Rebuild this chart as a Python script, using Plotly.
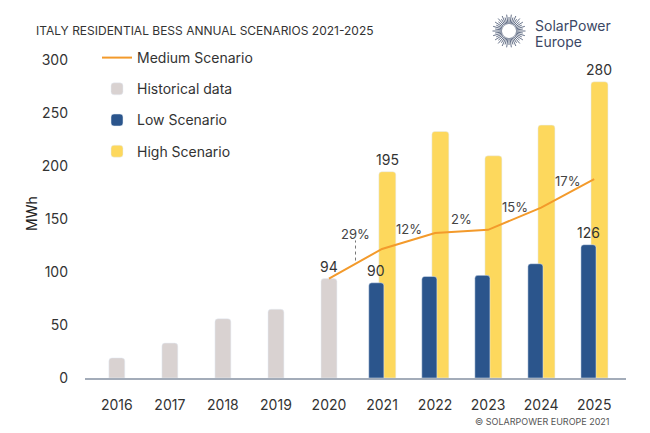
import math
import plotly.graph_objects as go

# ---------------- data ----------------
hist_years = [2016, 2017, 2018, 2019, 2020]
hist_values = [19, 33, 56, 65, 94]

scen_years = [2021, 2022, 2023, 2024, 2025]
low_values = [90, 96, 97, 108, 126]
high_values = [195, 233, 210, 239, 280]

medium_years = [2020, 2021, 2022, 2023, 2024, 2025]
medium_values = [94, 122, 137, 140, 161, 188]
growth_labels = ["29%", "12%", "2%", "15%", "17%"]

tick_years = list(range(2016, 2026))

# ---------------- style ----------------
FONT = "Inter"
TXT = "#333333"
GREY = "#D9D2D1"
BLUE = "#2B558C"
YELLOW = "#FDD85D"
ORANGE = "#F39A2B"
AXIS = "#A3ACB9"

W, H = 650, 433
ML, MR, MT, MB = 85, 24, 50, 55
PW, PH = W - ML - MR, H - MT - MB


def px_x(px):
    return (px - ML) / PW


def px_y(py):
    return (H - MB - py) / PH


fig = go.Figure()

fig.add_trace(go.Scatter(
    x=medium_years, y=medium_values, mode="lines", name="Medium Scenario",
    line=dict(color=ORANGE, width=2), legendgroup="a", legendrank=1,
))
fig.add_trace(go.Bar(
    x=hist_years, y=hist_values, name="Historical data", marker_color=GREY,
    width=0.30, legendgroup="b", legendrank=2,
))
fig.add_trace(go.Bar(
    x=scen_years, y=high_values, name="High Scenario", marker_color=YELLOW,
    width=0.32, offset=-0.06, legendgroup="d", legendrank=4,
))
fig.add_trace(go.Bar(
    x=scen_years, y=low_values, name="Low Scenario", marker_color=BLUE,
    width=0.285, offset=-0.25, legendgroup="c", legendrank=3,
))

annotations = []


def val_label(x, y, text):
    annotations.append(dict(x=x, y=y, text=text, showarrow=False, xref="x", yref="y",
                            yanchor="bottom", yshift=2,
                            font=dict(family=FONT, size=14, color=TXT)))


val_label(hist_years[-1], hist_values[-1], str(hist_values[-1]))
val_label(scen_years[0] - 0.25 + 0.1425, low_values[0], str(low_values[0]))
val_label(scen_years[0] - 0.06 + 0.16, high_values[0], str(high_values[0]))
val_label(scen_years[-1] - 0.25 + 0.1425, low_values[-1], str(low_values[-1]))
val_label(scen_years[-1] - 0.06 + 0.16, high_values[-1], str(high_values[-1]))

shapes = []
for i, lab in enumerate(growth_labels):
    xm = (medium_years[i] + medium_years[i + 1]) / 2
    ym = (medium_values[i] + medium_values[i + 1]) / 2
    shift = 30 if i == 0 else 12
    annotations.append(dict(x=xm, y=ym, text=lab, showarrow=False, xref="x", yref="y",
                            yshift=shift, font=dict(family=FONT, size=13, color="#444444")))
    if i == 0:
        shapes.append(dict(type="line", xref="x", yref="y", x0=xm, x1=xm,
                           y0=ym + 3, y1=ym + 22,
                           line=dict(color="#777777", width=1, dash="dot")))

annotations.append(dict(x=px_x(31), y=0.5, xref="paper", yref="paper", text="MWh",
                        textangle=-90, showarrow=False, xanchor="center", yanchor="middle",
                        font=dict(family=FONT, size=14, color="#222222")))
annotations.append(dict(x=px_x(612), y=px_y(421), xref="paper", yref="paper",
                        xanchor="right", yanchor="middle",
                        text="© SOLARPOWER EUROPE 2021", showarrow=False,
                        font=dict(family=FONT, size=9, color="#555555")))
LOGO = "#3B4764"
annotations.append(dict(x=px_x(533), y=px_y(25), xref="paper", yref="paper",
                        xanchor="left", yanchor="middle", text="SolarPower",
                        showarrow=False, font=dict(family=FONT, size=14, color=LOGO)))
annotations.append(dict(x=px_x(533), y=px_y(41), xref="paper", yref="paper",
                        xanchor="left", yanchor="middle", text="Europe",
                        showarrow=False, font=dict(family=FONT, size=14, color=LOGO)))

cx, cy = 509, 31
n_rays = 44
for k in range(n_rays):
    a = 2 * math.pi * k / n_rays
    r0 = 7
    r1 = 16.5 if k % 2 == 0 else 14
    shapes.append(dict(type="line", xref="paper", yref="paper",
                       x0=px_x(cx + r0 * math.cos(a)), y0=px_y(cy + r0 * math.sin(a)),
                       x1=px_x(cx + r1 * math.cos(a)), y1=px_y(cy + r1 * math.sin(a)),
                       line=dict(color="#56627C", width=0.9)))

fig.update_layout(
    width=W, height=H,
    margin=dict(l=ML, r=MR, t=MT, b=MB, autoexpand=False),
    paper_bgcolor="white", plot_bgcolor="white",
    barmode="overlay",
    barcornerradius=3,
    title=dict(text="ITALY RESIDENTIAL BESS ANNUAL SCENARIOS 2021-2025",
               x=36 / W, xanchor="left", xref="container",
               y=1 - 31 / H, yanchor="middle", yref="container",
               font=dict(family=FONT, size=12, color=TXT)),
    font=dict(family=FONT, size=14, color=TXT),
    showlegend=True,
    legend=dict(x=px_x(97), y=px_y(42), xanchor="left", yanchor="top",
                xref="paper", yref="paper",
                bgcolor="rgba(0,0,0,0)", tracegroupgap=10,
                font=dict(family=FONT, size=14, color=TXT),
                traceorder="grouped"),
    xaxis=dict(range=[2015.4, 2025.6], tickvals=tick_years,
               ticktext=[str(y) for y in tick_years], automargin=False,
               showgrid=False, zeroline=False, showline=True,
               linecolor=AXIS, linewidth=2, ticks="", ticklabelstandoff=13,
               tickfont=dict(family=FONT, size=14, color=TXT)),
    yaxis=dict(range=[0, 310], tickvals=[0, 50, 100, 150, 200, 250, 300],
               automargin=False,
               showgrid=False, zeroline=False, showline=False, ticks="",
               ticklabelstandoff=16,
               tickfont=dict(family=FONT, size=14, color=TXT)),
    annotations=annotations,
    shapes=shapes,
)

fig.write_html("out.html", config={"displayModeBar": False},
               post_script="document.body.style.margin='0';")
